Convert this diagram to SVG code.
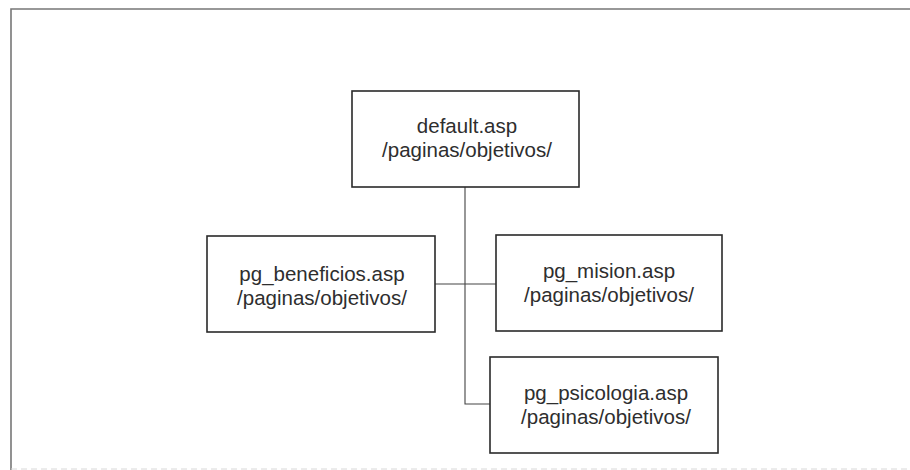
<svg xmlns="http://www.w3.org/2000/svg" width="910" height="470" viewBox="0 0 910 470">
<style>
.box{fill:#fff;stroke:#2a2a2a;stroke-width:1.6}
.lbl{font-family:"Liberation Sans",Arial,sans-serif;font-size:20.5px;fill:#2e2e2e;text-anchor:middle}
.conn{fill:none;stroke:#444;stroke-width:1.1}
.frame{fill:none;stroke:#777;stroke-width:1.6}
</style>
<rect width="910" height="470" fill="#fff"/>
<path class="frame" d="M11,470 V9 H910"/>
<line x1="11" y1="469" x2="910" y2="469" stroke="#d8d8d8" stroke-width="1" stroke-dasharray="6 4"/>
<g id="connectors">
<path class="conn" d="M465,187 V404 H490"/>
<path class="conn" d="M435,284 H496"/>
</g>
<g id="default">
<rect class="box" x="352" y="91" width="227" height="96"/>
<text class="lbl" x="467" y="133">default.asp</text>
<text class="lbl" x="467" y="157">/paginas/objetivos/</text>
</g>
<g id="beneficios">
<rect class="box" x="207" y="236" width="228" height="96"/>
<text class="lbl" x="322" y="281">pg_beneficios.asp</text>
<text class="lbl" x="322" y="305">/paginas/objetivos/</text>
</g>
<g id="mision">
<rect class="box" x="496" y="235" width="226" height="96"/>
<text class="lbl" x="609" y="278">pg_mision.asp</text>
<text class="lbl" x="609" y="302">/paginas/objetivos/</text>
</g>
<g id="psicologia">
<rect class="box" x="490" y="357" width="228" height="96"/>
<text class="lbl" x="606" y="400">pg_psicologia.asp</text>
<text class="lbl" x="606" y="424">/paginas/objetivos/</text>
</g>
</svg>
